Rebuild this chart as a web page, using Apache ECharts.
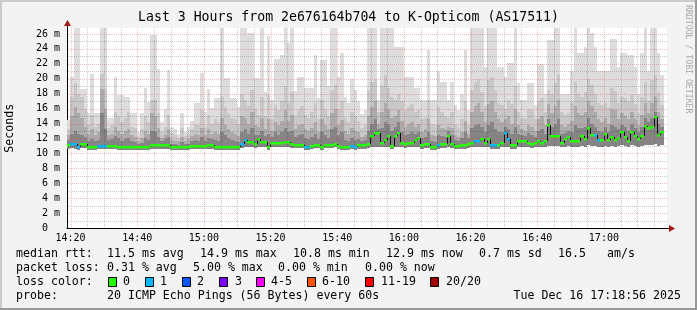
<!DOCTYPE html>
<html><head><meta charset="utf-8">
<script src="https://cdn.jsdelivr.net/npm/echarts@6/dist/echarts.min.js"></script>
<style>html,body{margin:0;padding:0;background:#F3F3F3;}#c{width:697px;height:310px;}</style>
</head><body><div id="c"></div>
<script>
// ---------- data ----------
const titleText = 'Last 3 Hours from 2e676164b704 to K-Opticom (AS17511)';
const yAxisTitle = 'Seconds';
const startMin = 18 + 56 / 60;          // 14:18:56, minutes after 14:00
const spanMin = 180;
const xTickValues = [20, 40, 60, 80, 100, 120, 140, 160, 180];
const xMinorValues = [25,30,35,45,50,55,65,70,75,85,90,95,105,110,115,125,130,135,145,150,155,165,170,175,185,190,195];
const yTickValues = [0,2,4,6,8,10,12,14,16,18,20,22,24,26];
const yMinorValues = [1,3,5,7,9,11,13,15,17,19,21,23,25];
const yMax = 26.8;

const median = [
 11.08,11.26,11.26,10.8,11.26,11.26,10.8,10.8,10.8,11.0,
 11.0,11.0,11.0,11.0,11.0,10.85,10.8,10.8,10.8,10.8,
 10.8,10.8,10.8,10.8,10.8,11.1,11.1,11.1,11.1,11.1,
 11.1,10.8,10.8,10.8,10.8,10.8,10.8,11.0,11.0,11.0,
 11.0,11.0,11.1,11.1,10.9,10.9,10.9,10.9,10.9,10.9,
 10.9,10.9,11.26,11.8,11.57,11.57,11.3,11.9,11.57,11.57,
 10.9,11.45,11.45,11.45,11.45,11.55,11.55,11.2,11.1,11.1,
 11.1,10.9,10.9,11.0,11.1,11.1,10.9,11.1,11.1,11.1,
 11.3,11.05,10.9,10.9,10.9,11.0,10.9,11.1,11.1,11.1,
 11.2,12.3,12.78,12.78,11.45,11.8,12.35,11.0,12.3,12.78,
 11.4,11.25,11.45,11.45,11.8,12.0,11.1,11.3,11.3,10.9,
 10.9,11.1,11.2,11.2,12.35,11.25,11.0,11.0,11.1,11.1,
 11.26,11.45,11.7,11.6,11.9,11.45,11.9,11.1,11.1,11.1,
 11.45,12.78,11.9,11.1,11.1,11.6,11.6,11.6,11.45,11.26,
 11.45,11.7,11.35,11.7,13.8,12.33,12.33,12.33,11.35,11.9,
 12.25,11.7,11.6,11.6,12.35,11.9,13.45,12.5,12.4,11.75,
 11.85,12.65,11.75,12.25,11.85,12.1,12.9,12.25,11.6,12.9,
 12.3,11.95,12.35,13.65,13.4,13.5,14.85,12.45,12.9,null];

const lossCount = [
 0,1,1,1,0,0,0,0,0,1, 1,1,0,0,0,0,0,0,0,0, 0,0,0,0,0,0,0,0,0,0,
 0,0,0,0,0,0,0,0,0,0, 0,0,0,0,0,0,0,0,0,0, 0,0,1,1,0,0,0,0,0,0,
 0,0,0,0,0,0,0,0,0,0, 0,1,1,0,0,0,0,0,0,0, 0,0,0,0,0,1,1,0,0,0,
 0,0,0,0,0,0,0,0,0,0, 0,0,0,0,0,0,0,0,0,0, 0,1,0,0,0,0,0,0,0,0,
 0,0,1,1,0,0,0,1,1,0, 0,1,1,0,0,0,0,0,0,0, 0,0,0,0,0,0,0,0,0,0,
 0,0,0,0,0,0,0,0,1,1, 0,0,0,0,0,0,0,0,0,0, 0,0,0,0,0,0,0,0,0,0];

const smokeMin = [
 10.6,10.7,10.6,10.4,10.7,10.7,10.4,10.4,10.4,10.6,
 10.6,10.6,10.6,10.6,10.6,10.5,10.5,10.5,10.5,10.5,
 10.4,10.4,10.4,10.4,10.4,10.6,10.6,10.6,10.6,10.6,
 10.6,10.4,10.4,10.4,10.4,10.4,10.4,10.6,10.6,10.6,
 10.6,10.6,10.6,10.6,10.5,10.5,10.5,10.5,10.5,10.5,
 10.5,10.5,10.7,10.8,10.8,10.8,10.7,10.9,10.8,10.8,
 10.5,10.8,10.8,10.8,10.8,10.9,10.9,10.7,10.7,10.7,
 10.7,10.5,10.5,10.6,10.7,10.7,10.5,10.7,10.7,10.7,
 10.8,10.6,10.5,10.5,10.5,10.6,10.5,10.6,10.6,10.6,
 10.7,10.9,10.9,10.9,10.8,10.8,10.9,10.6,10.9,10.9,
 10.8,10.7,10.8,10.8,10.8,10.9,10.6,10.7,10.7,10.5,
 10.5,10.6,10.7,10.7,10.8,10.7,10.6,10.6,10.6,10.6,
 10.7,10.8,10.9,10.9,10.9,10.8,10.9,10.6,10.6,10.6,
 10.8,10.9,10.9,10.6,10.6,10.9,10.9,10.9,10.8,10.7,
 10.8,10.9,10.8,10.9,11.0,11.0,11.0,11.0,10.8,10.9,
 11.0,10.9,10.9,10.9,11.0,10.9,11.1,11.0,11.0,10.9,
 10.9,11.0,10.9,11.0,10.9,11.0,11.1,11.0,10.9,11.1,
 11.0,10.9,11.0,11.1,11.1,11.1,11.2,11.0,11.1,null];

const smokeP55 = [
 11.8,12.6,13.0,12.6,12.4,12.2,11.6,11.9,11.6,11.8,
 15.4,13.2,11.8,11.9,12.3,12.0,11.7,11.9,12.0,11.6,
 11.5,11.2,11.4,12.0,11.8,13.0,12.8,12.2,11.6,11.9,
 12.2,11.3,11.2,11.1,11.5,11.2,11.3,11.7,11.8,11.7,
 12.2,11.7,12.0,11.9,11.8,11.7,12.8,12.4,12.0,11.8,
 11.7,11.5,12.9,13.2,12.6,13.4,12.4,12.5,13.0,12.3,
 12.6,12.2,12.8,12.5,12.8,13.4,12.8,13.0,12.2,12.5,
 12.6,12.0,11.9,12.2,12.6,11.9,12.8,12.4,12.1,13.2,
 13.6,12.4,12.8,11.8,11.6,12.0,11.8,11.9,11.7,11.8,
 13.0,14.0,14.6,13.2,13.4,14.2,14.0,13.0,13.6,14.2,
 12.8,12.4,12.6,12.8,12.6,12.9,12.0,12.2,12.9,11.6,
 11.5,12.4,12.3,12.2,13.0,12.4,11.8,11.7,12.0,12.8,
 12.0,13.4,13.8,14.0,13.6,12.8,13.8,14.2,13.2,12.8,
 12.8,13.6,13.2,12.6,13.6,12.6,12.4,12.3,12.7,12.5,
 12.2,13.0,13.2,12.6,14.6,13.6,14.0,14.6,12.6,12.7,
 13.0,12.9,13.8,13.4,13.4,13.6,14.8,14.0,13.6,13.0,
 12.8,13.5,12.8,13.8,13.6,13.2,13.8,13.6,13.0,14.0,
 13.4,12.9,13.6,14.8,14.2,14.8,15.6,14.0,13.6,null];

const smokeP65 = [
 12.4,15.0,16.2,15.4,14.8,13.6,12.6,13.2,12.4,12.8,
 18.6,16.0,12.4,12.6,13.5,13.0,12.6,13.0,13.2,12.4,
 12.2,11.7,12.0,13.0,12.6,15.4,15.0,13.4,12.0,12.5,
 13.2,11.8,11.7,11.6,12.2,11.7,11.9,12.3,12.6,12.4,
 13.4,12.4,13.2,12.6,12.8,12.6,14.8,13.8,13.2,12.8,
 12.6,12.3,15.0,14.8,14.0,15.6,13.8,13.6,14.8,13.2,
 14.6,13.0,14.2,13.8,14.4,15.8,14.4,15.2,13.2,13.8,
 14.0,13.2,13.0,13.4,14.2,12.9,14.6,13.8,13.2,15.4,
 16.0,13.8,14.5,13.0,12.6,13.4,13.0,12.8,12.2,12.4,
 15.0,16.2,17.0,14.0,15.6,16.8,16.0,14.8,15.0,15.8,
 14.4,13.6,14.0,14.2,13.6,14.0,12.9,13.2,14.6,12.5,
 12.3,13.8,13.4,13.2,13.5,13.4,12.4,12.2,12.8,14.4,
 12.6,15.6,16.4,16.8,15.6,14.2,16.6,17.0,15.6,14.6,
 14.2,14.6,15.0,14.0,16.0,13.8,13.2,13.0,13.8,13.6,
 13.0,14.6,15.0,13.8,16.6,15.4,16.4,17.2,13.8,13.6,
 14.0,14.4,16.4,15.4,15.2,15.6,17.0,16.4,15.6,14.6,
 14.2,14.8,14.0,16.0,15.8,14.6,15.4,15.0,14.6,15.6,
 14.6,13.8,15.2,16.8,15.4,16.8,17.6,15.6,14.6,null];

const smokeP80 = [
 13.2,17.5,19.4,18.0,17.6,16.0,13.8,15.2,13.5,14.0,
 20.7,18.6,13.4,13.8,15.6,15.0,14.2,14.8,15.5,13.6,
 13.4,12.2,13.2,15.0,14.2,17.2,17.2,15.4,12.9,13.6,
 15.2,12.7,12.4,12.1,13.4,12.3,12.6,13.2,14.0,13.8,
 15.8,13.6,15.2,14.0,14.6,14.2,17.5,16.2,15.4,14.8,
 14.6,13.9,18.0,17.2,16.4,18.5,16.0,15.2,17.5,15.0,
 17.8,14.6,16.5,15.8,17.0,19.0,16.8,18.2,15.0,15.8,
 16.4,15.2,14.8,15.6,16.8,14.6,17.2,16.0,15.0,18.5,
 19.2,16.0,17.0,14.8,14.2,15.6,15.0,14.4,13.4,13.8,
 18.5,19.5,20.0,15.6,19.0,20.5,18.8,17.6,17.2,18.0,
 17.0,15.8,16.2,16.6,15.5,15.8,14.6,14.8,17.2,14.0,
 13.8,16.2,15.6,15.0,14.8,15.6,13.9,13.5,14.6,17.0,
 13.8,18.5,19.6,20.0,18.2,16.4,19.8,20.2,18.5,16.8,
 16.5,16.0,17.2,16.6,19.0,15.6,14.8,14.6,16.0,15.8,
 14.6,17.0,17.4,15.6,18.5,18.0,19.4,20.6,15.6,15.2,
 15.4,16.8,19.5,18.0,17.6,18.2,20.0,19.2,18.0,16.8,
 16.5,16.8,16.2,18.8,18.4,16.8,17.6,17.4,17.0,17.8,
 16.6,15.4,17.6,19.6,17.0,19.8,20.5,18.2,16.5,null];

const smokeMax = [
 14.5,20.3,26.8,26.8,18.6,18.6,15.4,20.6,15.4,15.4,
 26.8,26.8,14.7,14.7,20.3,17.8,17.8,17.6,17.6,15.4,
 15.4,12.8,15.4,18.8,16.9,25.8,25.8,21.3,14.2,16.0,
 21.2,13.5,13.2,12.6,15.4,12.9,13.6,14.4,16.7,16.7,
 20.8,15.5,18.6,16.1,17.4,17.4,26.8,20.1,20.1,17.4,
 17.4,16.2,26.8,26.8,26.1,26.1,20.1,20.1,26.8,18.2,
 25.7,17.2,22.6,22.6,23.2,26.8,24.8,26.8,18.3,20.3,
 20.3,18.7,18.7,18.7,23.2,17.4,22.5,22.5,19.0,26.8,
 26.8,20.3,23.4,17.5,16.8,20.0,18.5,17.0,15.3,15.8,
 26.8,26.8,26.8,17.2,26.8,26.8,26.8,26.8,24.3,24.3,
 24.3,20.3,20.3,20.3,18.7,18.7,17.2,17.2,23.9,17.2,
 17.2,21.0,19.6,19.6,17.2,19.5,16.5,15.8,18.0,23.8,
 15.8,26.8,26.8,26.8,26.8,21.6,26.8,26.8,26.8,21.6,
 21.6,20.3,22.1,22.1,26.8,19.4,17.2,17.2,19.4,19.4,
 16.5,22.0,22.0,18.0,25.2,25.2,26.8,26.8,18.0,18.0,
 18.0,21.0,26.8,23.5,23.5,24.3,26.8,26.1,24.3,21.0,
 21.0,21.0,21.0,25.3,25.3,21.6,23.5,23.5,23.2,23.2,
 21.6,18.0,23.5,26.8,21.0,26.8,26.8,23.5,20.5,null];

const lossColors = ['#26ff00','#00b8ff','#0059ff','#7e00ff','#ff00ff','#ff5500','#ff0000','#a10000'];
const lossLabels = ['0','1','2','3','4-5','6-10','11-19','20/20'];
const smokeColors = ['#DDDDDD','#C8C8C8','#ABABAB','#858585'];

const legendRow1 = ['median rtt:','11.5 ms avg','14.9 ms max','10.8 ms min','12.9 ms now','0.7 ms sd','16.5','am/s'];
const legendRow2 = ['packet loss:','0.31 % avg','5.00 % max','0.00 % min','0.00 % now'];
const legendRow3 = ['loss color:'];
const legendRow4 = ['probe:','20 ICMP Echo Pings (56 Bytes) every 60s'];
const dateText = 'Tue Dec 16 17:18:56 2025';
const watermark = 'RRDTOOL / TOBI OETIKER';

// ---------- layout ----------
const FONT = '"DejaVu Sans Mono", monospace';
const row1X = [16,107,200,293,386,479,558,607];
const row2X = [16,107,193,278,365];
const row4X = [16,107];
const boxX = [108,145,182,219,256,307,365,430];
const boxLabelX = [123,160,197,235,271,322,381,446];
const rowY = [254,268,282,296];

const xMin = startMin, xMax = startMin + spanMin;

const smokeData = [], medData = [];
median.forEach((m, j) => {
  if (m == null) return;
  smokeData.push([startMin + j, smokeMin[j], smokeP55[j], smokeP65[j], smokeP80[j], smokeMax[j]]);
  medData.push([startMin + j, m, lossCount[j], j > 0 && median[j-1] != null ? median[j-1] : m]);
});

const gridData = [];
xTickValues.forEach(v => gridData.push([v, 0, 0]));
xMinorValues.forEach(v => gridData.push([v, 0, 1]));
yTickValues.filter(v => v > 0).forEach(v => gridData.push([xMin, v, 2]));
yMinorValues.forEach(v => gridData.push([xMin, v, 3]));

function fmtTime(v) {
  const h = 14 + Math.floor(v / 60), m = Math.round(v % 60);
  return h + ':' + (m < 10 ? '0' + m : m);
}

const chart = echarts.init(document.getElementById('c'), null, {renderer: 'canvas'});
const option = {
  backgroundColor: '#F3F3F3',
  animation: false,
  title: {
    text: titleText, left: 'center', top: 11, padding: 0,
    textStyle: {fontFamily: FONT, fontSize: 13.2, fontWeight: 'normal', color: '#000'}
  },
  grid: {left: 67, top: 28, width: 600, height: 200, show: true, backgroundColor: '#FFFFFF', borderWidth: 0,
         containLabel: false, outerBoundsMode: 'none'},
  xAxis: {
    type: 'value', min: xMin, max: xMax,
    axisLine: {show: true, onZero: false, lineStyle: {color: '#000', width: 1}},
    axisTick: {show: false}, splitLine: {show: false}, minorSplitLine: {show: false},
    axisLabel: {customValues: xTickValues, formatter: fmtTime, margin: 5, fontFamily: FONT, fontSize: 10, color: '#000'}
  },
  yAxis: {
    type: 'value', min: 0, max: yMax,
    axisLine: {show: true, lineStyle: {color: '#000', width: 1}},
    axisTick: {show: false}, splitLine: {show: false},
    axisLabel: {customValues: yTickValues, formatter: v => v === 0 ? '0  ' : v + ' m', margin: 7, fontFamily: FONT, fontSize: 10, color: '#000'}
  },
  series: [
    {
      type: 'custom', z: 2, silent: true, clip: true,
      encode: {x: 0, y: [1, 5]},
      data: smokeData,
      renderItem(params, api) {
        const x0 = api.value(0), lo = api.value(1);
        const tops = [api.value(5), api.value(4), api.value(3), api.value(2)];
        const pLo = api.coord([x0, lo]);
        const px0 = Math.round(pLo[0]);
        const px1 = Math.round(api.coord([x0 + 1, lo])[0]);
        const pyLo = Math.round(pLo[1]);
        const children = tops.map((t, i) => {
          const py = Math.round(api.coord([x0, t])[1]);
          return {type: 'rect', shape: {x: px0, y: py, width: px1 - px0, height: pyLo - py}, style: {fill: smokeColors[i]}};
        });
        return {type: 'group', children};
      }
    },
    {
      type: 'custom', z: 3, silent: true,
      encode: {x: 0, y: 1},
      data: gridData,
      renderItem(params, api) {
        const cs = params.coordSys;
        const kind = api.value(2);
        const p = api.coord([api.value(0), api.value(1)]);
        const major = kind === 0 || kind === 2;
        const style = {stroke: major ? 'rgba(240,60,60,0.35)' : 'rgba(0,0,0,0.2)', lineWidth: 1, lineDash: [1, 1]};
        if (kind <= 1) {
          const x = Math.round(p[0]) + 0.5;
          return {type: 'line', shape: {x1: x, y1: cs.y, x2: x, y2: cs.y + cs.height}, style};
        }
        const y = Math.round(p[1]) + 0.5;
        return {type: 'line', shape: {x1: cs.x + 1, y1: y, x2: cs.x + cs.width, y2: y}, style};
      }
    },
    {
      type: 'custom', z: 4, silent: true, clip: true,
      encode: {x: 0, y: 1},
      data: medData,
      renderItem(params, api) {
        const x0 = api.value(0), m = api.value(1), l = api.value(2), prev = api.value(3);
        const p = api.coord([x0, m]);
        const px0 = Math.round(p[0]);
        const px1 = Math.round(api.coord([x0 + 1, m])[0]);
        const py = Math.round(p[1]);
        const pyPrev = Math.round(api.coord([x0, prev])[1]);
        return {type: 'group', children: [
          {type: 'line', shape: {x1: px0 + 0.5, y1: pyPrev, x2: px0 + 0.5, y2: py}, style: {stroke: '#111', lineWidth: 1}},
          {type: 'rect', shape: {x: px0, y: py - 1, width: px1 - px0, height: 2.5}, style: {fill: lossColors[l]}}
        ]};
      }
    }
  ]
};
chart.setOption(option);

// ---------- decorations (frame, arrows, legend) ----------
const o = chart.convertToPixel({gridIndex: 0}, [xMin, 0]);
const r = chart.convertToPixel({gridIndex: 0}, [xMax, 0]);
const t = chart.convertToPixel({gridIndex: 0}, [xMin, yMax]);
const ox = Math.round(o[0]) + 0.5, oy = Math.round(o[1]) + 0.5;
const rx = Math.round(r[0]), ty = Math.round(t[1]);

const g = [];
g.push({type: 'rect', shape: {x: 0, y: 0, width: 697, height: 2}, style: {fill: '#CBCBCB'}, silent: true});
g.push({type: 'rect', shape: {x: 0, y: 0, width: 2, height: 310}, style: {fill: '#CBCBCB'}, silent: true});
g.push({type: 'rect', shape: {x: 0, y: 308, width: 697, height: 2}, style: {fill: '#999999'}, silent: true});
g.push({type: 'rect', shape: {x: 695, y: 0, width: 2, height: 310}, style: {fill: '#999999'}, silent: true});
g.push({type: 'line', shape: {x1: rx, y1: oy, x2: rx + 3, y2: oy}, style: {stroke: '#000', lineWidth: 1}, z: 10});
g.push({type: 'line', shape: {x1: ox, y1: ty, x2: ox, y2: ty - 3}, style: {stroke: '#000', lineWidth: 1}, z: 10});
g.push({type: 'polygon', shape: {points: [[rx + 2, oy - 3.5], [rx + 8, oy], [rx + 2, oy + 3.5]]}, style: {fill: '#A01818'}, z: 10});
g.push({type: 'polygon', shape: {points: [[ox - 3.5, ty - 2], [ox, ty - 8], [ox + 3.5, ty - 2]]}, style: {fill: '#A01818'}, z: 10});
g.push({type: 'text', x: 688, y: 5, rotation: -Math.PI / 2,
  style: {text: watermark, fontFamily: FONT, fontSize: 8.2, fill: '#A8A8A8', align: 'left', verticalAlign: 'middle'}});
g.push({type: 'text', x: 10, y: (oy + ty) / 2, rotation: Math.PI / 2,
  style: {text: yAxisTitle, fontFamily: FONT, fontSize: 11.6, fill: '#000', align: 'center', verticalAlign: 'middle'}});

function txt(s, x, y, align) {
  return {type: 'text', x: x, y: y, style: {text: s, fontFamily: FONT, fontSize: 11.6, fill: '#000', align: align || 'left', verticalAlign: 'middle'}};
}
legendRow1.forEach((s, i) => g.push(txt(s, row1X[i], rowY[0])));
legendRow2.forEach((s, i) => g.push(txt(s, row2X[i], rowY[1])));
g.push(txt(legendRow3[0], 16, rowY[2]));
lossLabels.forEach((s, i) => {
  g.push({type: 'rect', shape: {x: boxX[i] + 0.5, y: rowY[2] - 4.5, width: 8, height: 9}, style: {fill: lossColors[i], stroke: '#000', lineWidth: 1}});
  g.push(txt(s, boxLabelX[i], rowY[2]));
});
legendRow4.forEach((s, i) => g.push(txt(s, row4X[i], rowY[3])));
g.push(txt(dateText, 681, rowY[3], 'right'));

chart.setOption({graphic: {elements: g}});
</script>
</body></html>
